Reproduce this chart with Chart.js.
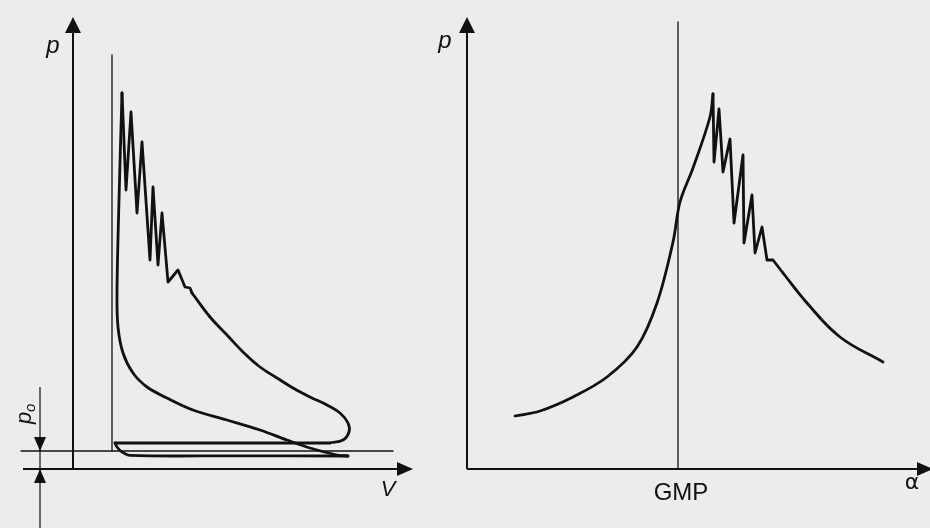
<!DOCTYPE html>
<html>
<head>
<meta charset="utf-8">
<script src="https://cdn.jsdelivr.net/npm/chart.js@4/dist/chart.umd.min.js"></script>
<style>
  html, body { margin: 0; padding: 0; background: #ececec; }
  #wrap { position: relative; width: 930px; height: 528px; overflow: hidden; background: #ececec; }
  canvas { position: absolute; top: 0; }
</style>
</head>
<body>
<div id="wrap">
  <canvas id="pv" width="440" height="528" style="left:0"></canvas>
  <canvas id="pa" width="500" height="528" style="left:430px"></canvas>
</div>
<script>
// ---- p-V diagram (left), V and p in arbitrary units ----
const intakeV = [10.5, 11, 12.25, 14.25, 40, 68.75];
const intakeP = [6.5, 5.5, 4.25, 3.4, 3.3, 3.25];

const compV = [68.75, 66, 59.25, 53.5, 46.75, 38.5, 30, 23.5, 18.5, 15, 12.5, 11.25, 11, 11.5, 12.25];
const compP = [3.25, 3.5, 5.25, 7.25, 9.75, 12.25, 14.75, 17.75, 20.5, 24, 29, 35.5, 44, 67.25, 94];

const knockV = [12.25, 13.25, 14.5, 16, 17.25, 19.25, 20, 21.25, 22.25, 23.75, 26.25, 28, 29.25, 29.75];
const knockP = [94, 69.75, 89.25, 64, 81.75, 52.25, 70.5, 51, 64, 46.75, 49.75, 45.5, 45.25, 44];

const expV = [29.75, 34.25, 38.5, 42.5, 46.75, 51, 55, 59.25, 63.5, 66.75, 68.75, 69, 67.5, 64.25];
const expP = [44, 38, 33.5, 29.25, 25.5, 22.75, 20.25, 18, 16, 14, 11.5, 9.25, 7.25, 6.5];

const exhaustV = [64.25, 10.5];
const exhaustP = [6.5, 6.5];

const tdcV = 9.75;        // top dead centre line
const tdcTopP = 103.5;
const p0 = 4.5;           // ambient pressure line
const p0LineV = [-13, 80];

// ---- p-alpha diagram (right), alpha in crank units, GMP = 0 ----
const riseA = [-40.75, -34.5, -26.25, -17.75, -10.25, -5.25, -1.25, 0.5, 3.75, 8, 8.75];
const riseP = [13.25, 14.5, 18, 23, 30.5, 41.5, 56.75, 66.75, 75.25, 88, 93.75];

const knockA = [8.75, 9, 10.25, 11.25, 13, 14, 16.25, 16.5, 18.5, 19.25, 21, 22.25, 23.75, 26.25];
const knockAP = [93.75, 76.75, 90, 74.25, 82.5, 61.5, 78.5, 56.5, 68.5, 54, 60.5, 52.25, 52.25, 49];

const decayA = [26.25, 32.25, 40.5, 51.25];
const decayP = [49, 41.5, 33, 26.75];

const gmpA = 0;
const gmpTopP = 111.75;

const ink = '#111';
const pts = (xs, ys) => xs.map((x, i) => ({ x: x, y: ys[i] }));

function curve(data, tension, width) {
  return {
    data: data, showLine: true, pointRadius: 0, borderColor: ink,
    borderWidth: width || 2.8, tension: tension, clip: false,
    borderCapStyle: 'round', borderJoinStyle: 'round'
  };
}

function triangle(ctx, a, b, c) {
  ctx.beginPath();
  ctx.moveTo(a[0], a[1]); ctx.lineTo(b[0], b[1]); ctx.lineTo(c[0], c[1]);
  ctx.closePath();
  ctx.fill();
}

const pvDecor = {
  id: 'pvDecor',
  afterDatasetsDraw(chart) {
    const ctx = chart.ctx, x = chart.scales.x, y = chart.scales.y;
    const x0 = x.getPixelForValue(0), y0 = y.getPixelForValue(0);
    ctx.save();
    ctx.strokeStyle = ink; ctx.fillStyle = ink;
    // axes
    ctx.lineWidth = 2;
    ctx.beginPath();
    ctx.moveTo(x0, y0); ctx.lineTo(x0, y.getPixelForValue(113) + 12);
    ctx.moveTo(x.getPixelForValue(-12.5), y0); ctx.lineTo(x.getPixelForValue(85) - 12, y0);
    ctx.stroke();
    const top = y.getPixelForValue(113), right = x.getPixelForValue(85);
    triangle(ctx, [x0, top], [x0 - 8, top + 16], [x0 + 8, top + 16]);
    triangle(ctx, [right, y0], [right - 16, y0 - 7], [right - 16, y0 + 7]);
    // p0 dimension
    const dx = x.getPixelForValue(-8.25), yp0 = y.getPixelForValue(p0);
    ctx.lineWidth = 1.2;
    ctx.beginPath();
    ctx.moveTo(dx, y.getPixelForValue(20.5)); ctx.lineTo(dx, 528);
    ctx.stroke();
    triangle(ctx, [dx, yp0], [dx - 6, yp0 - 14], [dx + 6, yp0 - 14]);
    triangle(ctx, [dx, y0], [dx - 6, y0 + 14], [dx + 6, y0 + 14]);
    // labels
    ctx.textAlign = 'center'; ctx.textBaseline = 'middle';
    ctx.font = 'italic 24px "Liberation Sans", Arial, sans-serif';
    ctx.fillText('p', 53, 46);
    ctx.font = 'italic 22px "Liberation Sans", Arial, sans-serif';
    ctx.fillText('V', 388, 490);
    ctx.translate(31, 414);
    ctx.rotate(-Math.PI / 2);
    ctx.font = 'italic 22px "Liberation Sans", Arial, sans-serif';
    ctx.textAlign = 'left'; ctx.textBaseline = 'alphabetic';
    ctx.fillText('p', -10, 0);
    ctx.font = 'italic 15px "Liberation Sans", Arial, sans-serif';
    ctx.fillText('o', 2, 4);
    ctx.restore();
  }
};

const paDecor = {
  id: 'paDecor',
  afterDatasetsDraw(chart) {
    const ctx = chart.ctx, x = chart.scales.x, y = chart.scales.y;
    const x0 = x.getPixelForValue(x.min), y0 = y.getPixelForValue(0);
    ctx.save();
    ctx.strokeStyle = ink; ctx.fillStyle = ink;
    ctx.lineWidth = 2;
    const top = y.getPixelForValue(113), right = x.getPixelForValue(x.max) + 3;
    ctx.beginPath();
    ctx.moveTo(x0, y0); ctx.lineTo(x0, top + 12);
    ctx.moveTo(x0, y0); ctx.lineTo(right - 12, y0);
    ctx.stroke();
    triangle(ctx, [x0, top], [x0 - 8, top + 16], [x0 + 8, top + 16]);
    triangle(ctx, [right, y0], [right - 16, y0 - 7], [right - 16, y0 + 7]);
    ctx.textAlign = 'center'; ctx.textBaseline = 'middle';
    ctx.font = 'italic 24px "Liberation Sans", Arial, sans-serif';
    ctx.fillText('p', 15, 41);
    ctx.font = '24px "Liberation Sans", Arial, sans-serif';
    ctx.textBaseline = 'alphabetic';
    ctx.fillText('GMP', x.getPixelForValue(gmpA) + 3, 500);
    ctx.font = '22px "DejaVu Sans", sans-serif';
    ctx.textBaseline = 'middle';
    ctx.fillText('\u03b1', 482, 483);
    ctx.restore();
  }
};

const baseOptions = (xMin, xMax, padLeft, padRight) => ({
  responsive: false,
  animation: false,
  events: [],
  layout: { padding: { left: padLeft, right: padRight, top: 17, bottom: 59 } },
  plugins: { legend: { display: false }, tooltip: { enabled: false } },
  scales: {
    x: { type: 'linear', min: xMin, max: xMax, display: false },
    y: { type: 'linear', min: 0, max: 113, display: false }
  }
});

new Chart(document.getElementById('pv'), {
  type: 'scatter',
  data: {
    datasets: [
      curve([{ x: tdcV, y: p0 }, { x: tdcV, y: tdcTopP }], 0, 1.3),
      curve(pts(p0LineV, [p0, p0]), 0, 1.4),
      curve(pts(intakeV, intakeP), 0.35),
      curve(pts(compV, compP), 0.35),
      curve(pts(knockV, knockP), 0),
      curve(pts(expV, expP), 0.4),
      curve(pts(exhaustV, exhaustP), 0)
    ]
  },
  options: baseOptions(0, 85, 73, 27),
  plugins: [pvDecor]
});

new Chart(document.getElementById('pa'), {
  type: 'scatter',
  data: {
    datasets: [
      curve([{ x: gmpA, y: 0 }, { x: gmpA, y: gmpTopP }], 0, 1.3),
      curve(pts(riseA, riseP), 0.35),
      curve(pts(knockA, knockAP), 0),
      curve(pts(decayA, decayP), 0.4)
    ]
  },
  options: baseOptions(-52.75, 63, 37, 0),
  plugins: [paDecor]
});
</script>
</body>
</html>
